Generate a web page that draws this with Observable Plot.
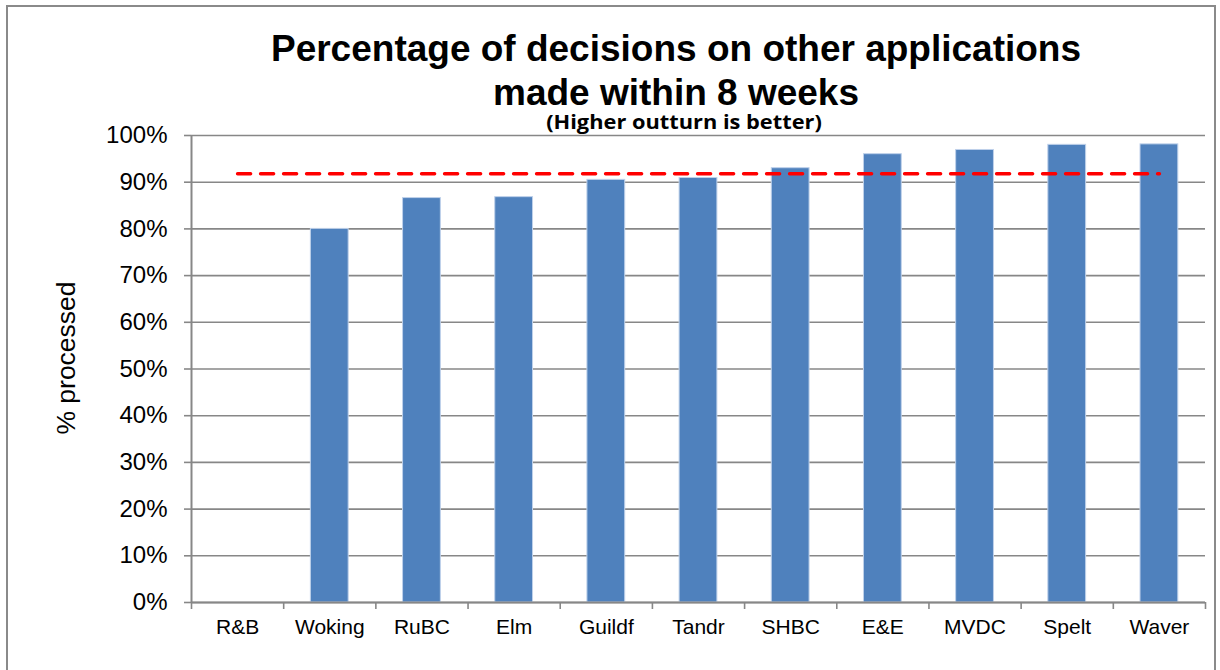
<!DOCTYPE html>
<html>
<head>
<meta charset="utf-8">
<script src="https://cdn.jsdelivr.net/npm/d3@7"></script>
<script src="https://cdn.jsdelivr.net/npm/@observablehq/plot@0.6"></script>
<style>
  html, body { margin: 0; padding: 0; background: #fff; overflow: hidden; }
  #wrap { position: relative; width: 1220px; height: 670px; }
  #frame { position: absolute; left: 6px; top: 5px; width: 1210px; height: 700px; border: 2px solid #8a8a8a; box-sizing: border-box; }
  .t1 { position: absolute; left: 676px; transform: translateX(-50%); white-space: nowrap;
        font-family: "Liberation Sans", Arial, sans-serif; font-weight: bold; font-size: 37px; line-height: 37px; color: #000; }
  .sub { position: absolute; left: 684px; top: 112px; transform: translateX(-50%) scaleX(1.09); white-space: nowrap;
        font-family: "Open Sans", sans-serif; font-weight: bold; font-size: 20px; line-height: 20px; color: #000; }
  #ytitle { position: absolute; left: 66px; top: 358px; transform: translate(-50%, -50%) rotate(-90deg); white-space: nowrap;
        font-family: "Liberation Sans", Arial, sans-serif; font-size: 26.5px; color: #000; }
  #chart { position: absolute; left: 0; top: 0; }
</style>
</head>
<body>
<div id="wrap">
  <div id="frame"></div>
  <div id="chart"></div>
  <div class="t1" style="top:29.5px">Percentage of decisions on other applications</div>
  <div class="t1" style="top:73.5px">made within 8 weeks</div>
  <div class="sub">(Higher outturn is better)</div>
  <div id="ytitle">% processed</div>
</div>
<script>
const categories = ["R&B", "Woking", "RuBC", "Elm", "Guildf", "Tandr", "SHBC", "E&E", "MVDC", "Spelt", "Waver"];
const values = [null, 80.0, 86.6, 86.8, 90.5, 90.9, 93.0, 96.0, 96.9, 98.0, 98.1];
const targetValue = 91.8;
const yTicks = [0, 10, 20, 30, 40, 50, 60, 70, 80, 90, 100];

const n = categories.length;
const barFraction = 0.41;
const data = categories.map((name, i) => ({i, name, value: values[i]}));
const barData = data.filter(d => d.value != null);
const targetData = data.map(d => ({i: d.i, target: targetValue}));

const grey = "#878787";

const chart = Plot.plot({
  width: 1220,
  height: 670,
  marginTop: 135,
  marginBottom: 68,
  marginLeft: 191,
  marginRight: 15,
  x: {type: "linear", domain: [0, n], axis: null},
  y: {domain: [0, 100], axis: null},
  style: {fontFamily: "'Liberation Sans', Arial, sans-serif", background: "transparent", color: "#000"},
  marks: [
    Plot.gridY(yTicks, {stroke: grey, strokeOpacity: 1, strokeWidth: 1.6}),
    Plot.axisY(yTicks, {tickFormat: d => d + "%", tickSize: 7, tickPadding: 17, stroke: grey, strokeWidth: 1.6, fontSize: 24, label: null}),
    Plot.rectY(barData, {
      x1: d => d.i + (1 - barFraction) / 2,
      x2: d => d.i + (1 + barFraction) / 2,
      y: "value",
      fill: "#4F81BD",
      stroke: "#bfd1ea",
      strokeWidth: 1
    }),
    Plot.ruleX([0], {stroke: grey, strokeWidth: 2}),
    Plot.ruleY([0], {stroke: grey, strokeWidth: 2}),
    Plot.axisX(d3.range(0, n + 1), {tickSize: 7, tickFormat: () => "", stroke: grey, strokeWidth: 1.6, label: null}),
    Plot.axisX(data.map(d => d.i + 0.5), {tickSize: 0, tickPadding: 17, tickFormat: v => categories[Math.floor(v)], fontSize: 21, label: null}),
    Plot.lineY(targetData, {x: d => d.i + 0.5, y: "target", stroke: "#ff0000", strokeWidth: 3.5, strokeDasharray: "13,10"})
  ]
});
document.getElementById("chart").appendChild(chart);
</script>
</body>
</html>
